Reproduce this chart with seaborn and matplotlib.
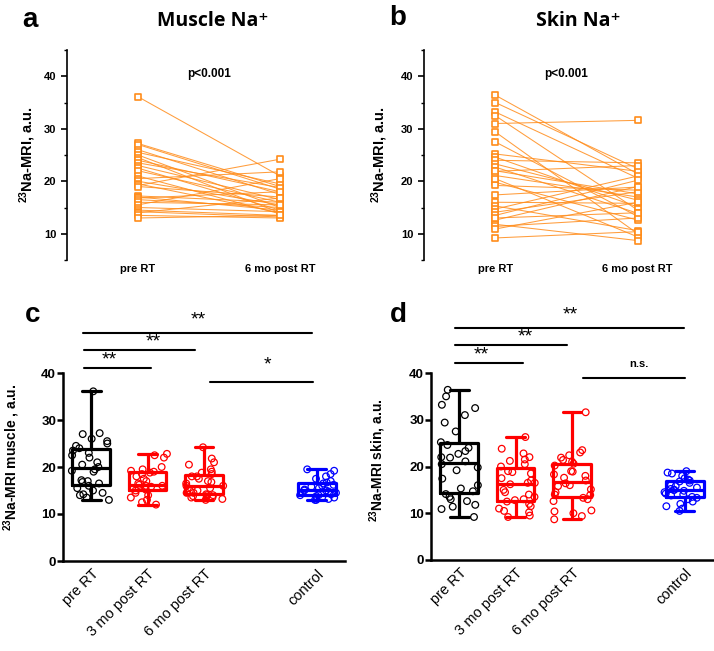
import matplotlib
matplotlib.use('Agg')
import matplotlib.pyplot as plt
from matplotlib.ticker import MultipleLocator
import numpy as np
import pandas as pd
import seaborn as sns

# Data
pair_labels = ['pre RT', '6 mo post RT']
groups = ['pre RT', '3 mo post RT', '6 mo post RT', 'gap', 'control']
tick_groups = ['pre RT', '3 mo post RT', '6 mo post RT', 'control']
tick_pos = [0, 1, 2, 4]

muscle_pre = [36.1, 27.2, 27.0, 26.0, 25.5, 25.0, 24.5, 24.0, 23.5, 23.0,
              22.5, 22.0, 21.0, 20.5, 20.0, 19.5, 19.2, 19.0, 17.2, 17.0,
              16.8, 16.5, 16.0, 15.5, 15.0, 14.5, 14.2, 14.0, 13.5, 13.0]
muscle_6mo = [21.0, 19.0, 18.5, 17.5, 19.5, 15.0, 14.0, 18.0, 18.8, 16.5,
              14.5, 16.0, 13.8, 21.8, 15.5, 14.0, 24.2, 17.0, 16.0, 14.5,
              18.0, 15.0, 15.5, 20.5, 14.2, 13.5, 13.2, 16.8, 13.0, 13.5]
muscle_3mo = [22.8, 22.5, 22.0, 20.0, 19.5, 19.2, 19.0, 18.8, 18.5, 18.0,
              17.5, 17.0, 16.5, 16.2, 16.0, 16.0, 15.8, 15.5, 15.5, 15.2,
              15.0, 14.5, 14.0, 13.5, 13.0, 12.5, 12.0]
muscle_ctrl = [19.5, 19.2, 18.5, 18.0, 17.5, 17.0, 16.7, 16.5, 16.2, 16.0,
               15.8, 15.5, 15.2, 15.0, 15.0, 14.8, 14.5, 14.2, 14.0, 14.0,
               13.8, 13.5, 13.2, 13.0, 13.0]

skin_pre = [36.4, 35.0, 33.2, 32.5, 31.0, 29.4, 27.5, 25.2, 24.6, 24.0,
            23.3, 22.7, 21.9, 21.1, 19.8, 19.2, 20.5, 22.0, 17.4, 16.0,
            15.3, 14.7, 14.1, 13.5, 12.6, 11.8, 11.4, 10.9, 9.2, 13.0]
skin_6mo = [21.4, 22.4, 20.6, 14.5, 31.6, 10.0, 13.3, 21.9, 15.1, 23.5,
            16.4, 13.9, 23.0, 17.0, 12.6, 18.3, 9.4, 17.6, 18.9, 15.8,
            10.6, 21.0, 18.0, 20.2, 19.0, 8.7, 13.0, 16.0, 10.4, 14.0]
skin_3mo = [26.3, 23.8, 22.8, 22.0, 21.5, 21.2, 20.5, 20.0, 19.0, 18.8,
            18.5, 17.5, 17.0, 16.5, 16.5, 16.2, 15.0, 14.5, 14.0, 13.5,
            13.0, 12.8, 12.5, 12.0, 11.5, 11.0, 10.5, 10.2, 9.5, 9.2]
skin_ctrl = [19.0, 18.7, 18.5, 18.0, 17.5, 17.2, 17.0, 16.8, 16.5, 16.0,
             15.8, 15.5, 15.2, 15.0, 15.0, 14.8, 14.5, 14.2, 14.0, 13.8,
             13.5, 13.3, 13.0, 12.5, 12.0, 11.5, 11.0, 10.5]

# significance brackets: (x0, x1, y, text, text_x, text_y)
muscle_sig = [(-0.14, 3.92, 48.5, '**', 1.89, 51.3),
              (-0.13, 1.84, 44.9, '**', 1.10, 46.6),
              (-0.13, 1.06, 41.1, '**', 0.32, 42.8),
              (2.11, 3.93, 38.1, '*', 3.13, 41.7)]
skin_sig = [(-0.07, 3.99, 49.6, '**', 1.97, 52.4),
            (-0.07, 1.91, 46.0, '**', 1.18, 47.7),
            (-0.07, 1.13, 42.1, '**', 0.40, 43.9),
            (2.20, 4.00, 38.9, 'n.s.', 3.19, 41.9)]

orange = '#FF8C1A'
group_colors = {'pre RT': 'black', '3 mo post RT': 'red',
                '6 mo post RT': 'red', 'control': 'blue'}

np.random.seed(3)
sns.set_theme(style='ticks')
plt.rcParams['font.family'] = ['Liberation Sans', 'DejaVu Sans']
for key in ['text.color', 'axes.labelcolor', 'xtick.color', 'ytick.color',
            'axes.edgecolor']:
    plt.rcParams[key] = 'black'
plt.rcParams['mathtext.fontset'] = 'custom'
plt.rcParams['mathtext.rm'] = 'Liberation Sans'
plt.rcParams['mathtext.bf'] = 'Liberation Sans:bold'


def paired_plot(ax, pre, post, title, title_x, label_x):
    n = len(pre)
    df = pd.DataFrame({'pid': list(range(n)) * 2,
                       'time': [pair_labels[0]] * n + [pair_labels[1]] * n,
                       'value': pre + post})
    sns.lineplot(data=df, x='time', y='value', units='pid', estimator=None,
                 sort=False, color=orange, lw=0.75, alpha=0.85, ax=ax)
    sns.scatterplot(data=df, x='time', y='value', marker='s', s=22,
                    color='white', edgecolor=orange, linewidth=1.2, ax=ax,
                    zorder=3)
    ax.set_xlim(-0.5, 1.5)
    ax.set_ylim(5, 45)
    ax.yaxis.set_minor_locator(MultipleLocator(5))
    ax.set_yticks([10, 20, 30, 40])
    sns.despine(ax=ax, bottom=True)
    ax.spines['left'].set_linewidth(1.2)
    ax.tick_params(axis='x', length=0, pad=3)
    ax.tick_params(axis='y', which='major', length=4, width=1.2)
    ax.tick_params(axis='y', which='minor', length=2.5, width=1.0, left=True)
    for lab in ax.get_xticklabels() + ax.get_yticklabels():
        lab.set_fontweight('bold')
        lab.set_fontsize(8)
    ax.set_xlabel('')
    ax.set_ylabel(r'$\mathbf{^{23}}$Na-MRI, a.u.', fontsize=10.5,
                  fontweight='bold')
    ax.yaxis.set_label_coords(label_x, 0.5)
    ax.text(0.5, 40.4, 'p<0.001', ha='center', va='center', fontsize=8.5,
            fontweight='bold')
    ax.figure.text(title_x, 1 - 21 / 651, title, ha='center', va='center',
                   fontsize=14, fontweight='bold',
                   family=['Open Sans', 'DejaVu Sans'])


def box_plot(ax, pre, m3, m6, ctrl, ylabel, sig, label_xy):
    df = pd.DataFrame({
        'group': ['pre RT'] * len(pre) + ['3 mo post RT'] * len(m3)
        + ['6 mo post RT'] * len(m6) + ['control'] * len(ctrl),
        'value': pre + m3 + m6 + ctrl})
    sns.boxplot(data=df, x='group', y='value', hue='group', order=groups,
                palette=group_colors, fill=False, whis=(0, 100), width=0.67,
                linewidth=2.3, showfliers=False, legend=False, ax=ax)
    sns.stripplot(data=df, x='group', y='value', hue='group', order=groups,
                  palette=group_colors, jitter=0.36, size=4.8, linewidth=0.9,
                  legend=False, ax=ax, zorder=3)
    for coll in ax.collections:
        fc = coll.get_facecolors()
        coll.set_edgecolors(fc)
        coll.set_facecolors('none')
    ax.set_xlim(-0.5, 4.5)
    ax.set_ylim(0, 40)
    ax.set_yticks([0, 10, 20, 30, 40])
    ax.set_xticks(tick_pos)
    ax.set_xticklabels(tick_groups, rotation=45, ha='right',
                       rotation_mode='anchor', fontsize=10.5)
    for lab in ax.get_yticklabels():
        lab.set_fontweight('bold')
        lab.set_fontsize(9.5)
    sns.despine(ax=ax)
    for s in ['left', 'bottom']:
        ax.spines[s].set_linewidth(1.8)
    ax.tick_params(axis='y', length=4, width=1.8, pad=1)
    ax.tick_params(axis='x', length=0, pad=4)
    ax.set_xlabel('')
    ax.set_ylabel(ylabel, fontsize=10, fontweight='bold')
    ax.yaxis.set_label_coords(*label_xy)
    for x0, x1, y, txt, tx, ty in sig:
        ax.plot([x0, x1], [y, y], color='black', lw=1.5, clip_on=False)
        if txt == 'n.s.':
            ax.text(tx, ty, txt, ha='center', va='center', fontsize=8,
                    fontweight='bold', clip_on=False)
        else:
            ax.text(tx, ty, txt, ha='center', va='center', fontsize=14,
                    clip_on=False)


fig = plt.figure(figsize=(7.14, 6.51), dpi=100)
W, H = 714, 651
ax_a = fig.add_axes([67 / W, 1 - 260 / H, 284 / W, 210 / H])
ax_b = fig.add_axes([424 / W, 1 - 260 / H, 285 / W, 210 / H])
ax_c = fig.add_axes([63 / W, 1 - 561 / H, 282 / W, 188 / H])
ax_d = fig.add_axes([431 / W, 1 - 560 / H, 282 / W, 187 / H])

paired_plot(ax_a, muscle_pre, muscle_6mo, 'Muscle Na⁺', 213 / W, -0.102)
paired_plot(ax_b, skin_pre, skin_6mo, 'Skin Na⁺', 578 / W, -0.119)
box_plot(ax_c, muscle_pre, muscle_3mo, muscle_6mo, muscle_ctrl,
         r'$\mathbf{^{23}}$Na-MRI muscle , a.u.', muscle_sig, (-0.145, 0.553))
box_plot(ax_d, skin_pre, skin_3mo, skin_6mo, skin_ctrl,
         r'$\mathbf{^{23}}$Na-MRI skin, a.u.', skin_sig, (-0.152, 0.535))

for letter, x, y in [('a', 30, 20), ('b', 398, 18), ('c', 33, 315), ('d', 398, 315)]:
    fig.text(x / W, 1 - y / H, letter, ha='center', va='center',
             fontsize=20, fontweight='bold')

fig.savefig('out.png', dpi=100)
